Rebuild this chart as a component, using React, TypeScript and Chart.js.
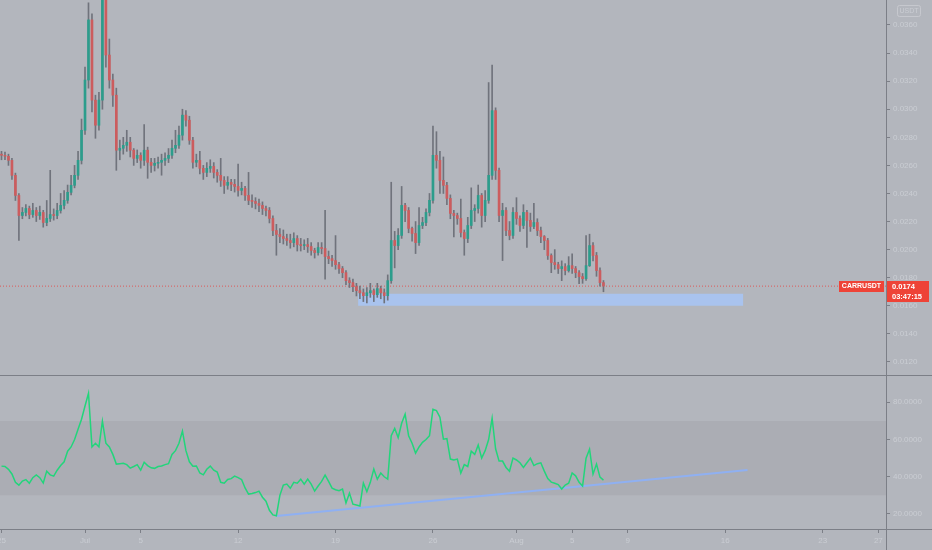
import React, { useEffect, useRef } from "react";
import { Chart, registerables } from "chart.js";

Chart.register(...registerables);

// ---------- data ----------
const symbol = "CARRUSDT";
const quoteCurrency = "USDT";
const lastPrice = 0.0174;
const countdown = "03:47:15";
const candleStepDays = 0.25; // 6h candles, day 0 = 25 Jun
const firstOpen = 0.0268;

const closes = [
  0.02672, 0.02665, 0.02636, 0.02529, 0.02386, 0.02243, 0.02265, 0.02293, 0.0225, 0.02279,
  0.02243, 0.02265, 0.02193, 0.02222, 0.0225, 0.02243, 0.02279, 0.02315, 0.02351, 0.02408,
  0.02458, 0.02529, 0.02636, 0.0285, 0.03208, 0.03636, 0.03065, 0.02886, 0.03065, 0.03815,
  0.03386, 0.03208, 0.031, 0.02708, 0.02722, 0.02743, 0.02765, 0.02708, 0.0265, 0.02672,
  0.02636, 0.02708, 0.02622, 0.026, 0.02615, 0.02622, 0.02636, 0.0265, 0.02672, 0.02722,
  0.02743, 0.02815, 0.02958, 0.02922, 0.02779, 0.02622, 0.02636, 0.02579, 0.0255, 0.02579,
  0.02593, 0.0255, 0.02529, 0.02493, 0.02458, 0.02479, 0.02465, 0.0245, 0.02422, 0.02436,
  0.02386, 0.02351, 0.02343, 0.02329, 0.02315, 0.02293, 0.02279, 0.02222, 0.02136, 0.02108,
  0.02093, 0.02079, 0.02065, 0.0205, 0.02079, 0.02036, 0.02029, 0.02036, 0.02022, 0.01994,
  0.01979, 0.02015, 0.02008, 0.01951, 0.01936, 0.01922, 0.01893, 0.01865, 0.01836, 0.01779,
  0.01765, 0.01736, 0.01708, 0.01693, 0.01672, 0.01693, 0.01708, 0.01679, 0.01722, 0.01693,
  0.01672, 0.01779, 0.02065, 0.02029, 0.02101, 0.02315, 0.02279, 0.02151, 0.02115, 0.0205,
  0.02172, 0.02193, 0.02265, 0.02351, 0.02672, 0.02636, 0.02493, 0.02458, 0.02365, 0.02258,
  0.02243, 0.02222, 0.02122, 0.02079, 0.02172, 0.02279, 0.02293, 0.02386, 0.02243, 0.02351,
  0.02529, 0.0299, 0.02565, 0.02243, 0.02279, 0.02136, 0.02101, 0.02265, 0.02222, 0.02172,
  0.02265, 0.02208, 0.02165, 0.02193, 0.02136, 0.02093, 0.02065, 0.01958, 0.01908, 0.01893,
  0.01865, 0.01879, 0.01851, 0.01886, 0.01865, 0.01836, 0.01808, 0.01793, 0.01886, 0.02029,
  0.01958, 0.01851, 0.01765, 0.0174,
];

const highs = [
  0.027, 0.02695, 0.0268, 0.0265, 0.02545, 0.024, 0.023, 0.0232, 0.0231, 0.0233,
  0.023, 0.0231, 0.0228, 0.0235, 0.02565, 0.0229, 0.0233, 0.024, 0.0242, 0.0246,
  0.0253, 0.026, 0.027, 0.0293, 0.033, 0.03758, 0.0368, 0.031, 0.0312, 0.039,
  0.0385, 0.035, 0.0325, 0.0315, 0.0278, 0.028, 0.0285, 0.028, 0.0272, 0.0271,
  0.0269, 0.0289, 0.0273, 0.0265, 0.0265, 0.0266, 0.0268, 0.0269, 0.0272, 0.0278,
  0.0285, 0.0288, 0.03, 0.0299, 0.0295, 0.028, 0.0268, 0.027, 0.026, 0.0262,
  0.0264, 0.0262, 0.0257, 0.0265, 0.0252, 0.0252, 0.025, 0.025, 0.0261, 0.0248,
  0.0245, 0.0255, 0.0239, 0.0237, 0.0236, 0.0234, 0.0231, 0.023, 0.0224, 0.0218,
  0.0215, 0.0214, 0.0211, 0.0211, 0.0212, 0.021, 0.0208, 0.0207, 0.0208, 0.0205,
  0.0201, 0.0205, 0.0205, 0.0228, 0.0199, 0.0196, 0.021, 0.0191, 0.0188, 0.0185,
  0.018, 0.0179, 0.0176, 0.0174, 0.0172, 0.0173, 0.0176, 0.0172, 0.0176, 0.0174,
  0.0172, 0.0182, 0.0248, 0.0213, 0.0215, 0.0245, 0.0233, 0.023, 0.0216, 0.022,
  0.023, 0.0223, 0.0229, 0.024, 0.0288, 0.0284, 0.027, 0.0266, 0.0248, 0.0239,
  0.0228, 0.0226, 0.0236, 0.0214, 0.0223, 0.0244, 0.0232, 0.0246, 0.024, 0.0242,
  0.0319, 0.03315, 0.0301, 0.0258, 0.0233, 0.023, 0.022, 0.023, 0.0237, 0.0224,
  0.0232, 0.0228, 0.0226, 0.0233, 0.0222, 0.0216, 0.021, 0.0208, 0.0197, 0.02,
  0.0191, 0.0192, 0.019, 0.0195, 0.0197, 0.0188, 0.0185, 0.0183, 0.021, 0.0211,
  0.0205, 0.0198, 0.0187, 0.0178,
];

const lows = [
  0.0264, 0.0264, 0.026, 0.025, 0.0235, 0.02065, 0.0222, 0.0224, 0.0222, 0.0223,
  0.022, 0.02215, 0.0216, 0.0217, 0.022, 0.0221, 0.0222, 0.0226, 0.0229, 0.0233,
  0.0239, 0.0244, 0.025, 0.0261, 0.0282, 0.0315, 0.0298, 0.02793, 0.0285, 0.03,
  0.033, 0.0315, 0.0302, 0.02565, 0.0264, 0.0268, 0.027, 0.0266, 0.026, 0.0262,
  0.0258, 0.026, 0.02508, 0.0255, 0.0256, 0.0258, 0.0253, 0.026, 0.0262, 0.0265,
  0.0269, 0.0272, 0.0278, 0.0288, 0.0275, 0.0258, 0.0259, 0.0254, 0.025, 0.0252,
  0.0255, 0.0251, 0.0248, 0.0245, 0.024, 0.0243, 0.0242, 0.0241, 0.0238, 0.0239,
  0.0235, 0.0232, 0.023, 0.0229, 0.0227, 0.0225, 0.0224, 0.0219, 0.021, 0.0196,
  0.0205, 0.0204, 0.0203, 0.0201, 0.0202, 0.0199, 0.0199, 0.02, 0.0198, 0.0196,
  0.0194, 0.0196, 0.0197, 0.0179, 0.019, 0.0188, 0.0186, 0.0183, 0.018, 0.0175,
  0.0173, 0.017, 0.0167, 0.0165, 0.0163, 0.0162, 0.0166, 0.0163, 0.0166, 0.0165,
  0.0162, 0.0164, 0.0176, 0.0187, 0.02, 0.0208, 0.022, 0.0212, 0.0206, 0.01972,
  0.0203, 0.0215, 0.0217, 0.0224, 0.0233, 0.0258, 0.024, 0.024, 0.0232, 0.0222,
  0.0209, 0.0218, 0.0209, 0.0196, 0.0205, 0.0215, 0.022, 0.0226, 0.0216, 0.022,
  0.0233, 0.025, 0.025, 0.022, 0.01922, 0.021, 0.0207, 0.0208, 0.0218, 0.0213,
  0.0215, 0.02015, 0.0213, 0.0215, 0.021, 0.0205, 0.02, 0.0193, 0.01836, 0.0186,
  0.0183, 0.01779, 0.0182, 0.0184, 0.0183, 0.018, 0.01758, 0.0176, 0.0178, 0.0188,
  0.0192, 0.0181, 0.0174, 0.017,
];

const rsiValues = [
  45.7, 45.5, 44, 41.5, 37, 35.5, 37.7, 38.5, 36.5, 39.5,
  41, 39.5, 36.6, 43, 41, 40.3, 43.5, 46, 48, 53.7,
  56, 60, 65.5, 70.9, 78, 84.8, 56, 58, 56, 69.8,
  58, 56, 52, 46.8, 47, 47.2, 46.5, 44.6, 45.5, 46.5,
  43.5, 47.8, 46, 44.8, 44.5, 45.5, 45.8, 46.5, 47, 52,
  54, 58, 64.5, 54, 48, 45.7, 45.8, 42, 41, 44,
  45.7, 43.5, 42.5, 37, 36.5, 38.5, 39, 40.3, 39.5, 38.5,
  34, 30.7, 31, 31.5, 32.3, 29, 26.9, 22, 19.5, 19,
  30, 35.5, 36.1, 33.8, 37, 36.5, 38.7, 36, 38.7, 36,
  32.3, 35, 37.5, 40.9, 37.5, 33.9, 33, 32.5, 33.4, 25.9,
  31.2, 25.3, 24.8, 24.3, 36.6, 32, 37, 44.1, 38.7, 42,
  40, 38.7, 62, 66, 61, 68.7, 73.6, 62, 58, 52.7,
  56, 58.5, 60, 62, 76.2, 75.5, 72, 60.2, 60.5, 49.5,
  49, 49.5, 42, 46.5, 45.5, 53.7, 52, 57, 50, 54,
  60, 71.4, 55, 48.4, 48.4, 45, 43, 50, 49, 47.5,
  45, 47.5, 50, 46, 47, 47.5, 43, 39, 37.1, 36.5,
  35.8, 33.4, 35.5, 36.5, 42, 40.5, 37, 35, 50, 54.8,
  41.4, 46.8, 39.8, 38.2,
];

const priceTicks = [0.012, 0.014, 0.016, 0.018, 0.02, 0.022, 0.024, 0.026, 0.028, 0.03, 0.032, 0.034, 0.036];
const rsiTicks = [20, 40, 60, 80];
const dateTickDays = [0, 6, 10, 17, 24, 31, 37, 41, 45, 52, 59, 63];
const dateTickLabels = ["25", "Jul", "5", "12", "19", "26", "Aug", "5", "9", "16", "23", "27"];

const xMinDay = -0.108;
const xMaxDay = 63.55;
const priceMin = 0.01107;
const priceMax = 0.03778;
const rsiMin = 11.4;
const rsiMax = 94.1;

const supportZoneTop = 0.01686;
const supportZoneBottom = 0.016;
const supportZoneStartDay = 25.62;
const supportZoneEndDay = 53.3;

const rsiBandUpper = 70;
const rsiBandLower = 30;
const rsiTrendStart = { day: 19.75, value: 18.9 };
const rsiTrendEnd = { day: 53.6, value: 43.6 };

// ---------- styles ----------
const BG = "#b3b6bd";
const BAND = "#abadb4";
const TEXT = "#cacdd3";
const LINE = "#7c7f87";
const UP = "#2c9d8c";
const DOWN = "#cc5c5e";
const WICK = "#70737c";
const RED = "#ee4337";
const FONT = "'Liberation Sans', Arial, sans-serif";

const AXIS_W = 46;

function rightAxis(min: number, max: number, ticks: number[], digits: number) {
  return {
    type: "linear" as const,
    position: "right" as const,
    min,
    max,
    afterBuildTicks: (s: any) => {
      s.ticks = ticks.map((v) => ({ value: v }));
    },
    afterFit: (s: any) => {
      s.width = AXIS_W;
      s.paddingTop = 0;
      s.paddingBottom = 0;
    },
    border: { display: false },
    grid: { drawOnChartArea: false, drawTicks: true, tickLength: 4, color: LINE },
    ticks: {
      color: TEXT,
      padding: 3,
      font: { family: FONT, size: 8 },
      callback: (v: any) => Number(v).toFixed(digits),
    },
  };
}

function xAxis(display: boolean) {
  return {
    type: "linear" as const,
    min: xMinDay,
    max: xMaxDay,
    offset: false,
    display,
    afterBuildTicks: (s: any) => {
      s.ticks = dateTickDays.map((v) => ({ value: v }));
    },
    afterFit: (s: any) => {
      s.height = display ? 20 : 0;
      s.paddingLeft = 0;
      s.paddingRight = 0;
    },
    border: { display: false },
    grid: { drawOnChartArea: false, drawTicks: true, tickLength: 3, color: LINE },
    ticks: {
      color: TEXT,
      padding: 3,
      autoSkip: false,
      maxRotation: 0,
      font: { family: FONT, size: 8 },
      callback: (_v: any, i: number) => dateTickLabels[i] ?? "",
    },
  };
}

const priceOverlay = {
  id: "priceOverlay",
  afterDraw(chart: any) {
    const { ctx } = chart;
    const y = Math.round(chart.scales.y.getPixelForValue(lastPrice));
    ctx.save();
    // symbol label
    ctx.fillStyle = RED;
    ctx.fillRect(839, y - 5, 45, 11);
    ctx.fillStyle = "#ffffff";
    ctx.font = `bold 7px ${FONT}`;
    ctx.textAlign = "center";
    ctx.textBaseline = "middle";
    ctx.fillText(symbol, 861.5, y + 0.5);
    // price label on axis
    ctx.fillStyle = RED;
    ctx.fillRect(886, y - 5, 43, 21);
    ctx.fillStyle = "#ffffff";
    ctx.textAlign = "left";
    ctx.font = `bold 7.5px ${FONT}`;
    ctx.fillText(lastPrice.toFixed(4), 892, y + 0.5);
    ctx.fillText(countdown, 892, y + 10.5);
    // currency box
    ctx.strokeStyle = "#c6c8ce";
    ctx.lineWidth = 1;
    ctx.beginPath();
    (ctx as any).roundRect(897.5, 5.5, 23, 11, 2);
    ctx.stroke();
    ctx.fillStyle = TEXT;
    ctx.font = `7px ${FONT}`;
    ctx.textAlign = "center";
    ctx.fillText(quoteCurrency, 909, 11.5);
    ctx.restore();
  },
};

export default function App() {
  const priceRef = useRef<HTMLCanvasElement>(null);
  const rsiRef = useRef<HTMLCanvasElement>(null);

  useEffect(() => {
    const opens = closes.map((_, i) => (i === 0 ? firstOpen : closes[i - 1]));
    const days = closes.map((_, i) => i * candleStepDays);
    const bodyColors = closes.map((c, i) => (c >= opens[i] ? UP : DOWN));

    const priceChart = new Chart(priceRef.current!, {
      type: "bar",
      data: {
        datasets: [
          {
            type: "line",
            data: [
              { x: supportZoneStartDay, y: supportZoneTop },
              { x: supportZoneEndDay, y: supportZoneTop },
            ],
            borderWidth: 0,
            pointRadius: 0,
            backgroundColor: "#a9c3ee",
            fill: { value: supportZoneBottom },
            order: 20,
          } as any,
          {
            type: "line",
            data: [
              { x: xMinDay, y: lastPrice },
              { x: xMaxDay, y: lastPrice },
            ],
            borderColor: "#dd5a5a",
            borderWidth: 1,
            borderDash: [1, 2],
            pointRadius: 0,
            fill: false,
            order: 15,
          } as any,
          {
            type: "bar",
            data: days.map((d, i) => ({ x: d, y: [lows[i], highs[i]] })),
            backgroundColor: WICK,
            barThickness: 1,
            grouped: false,
            borderWidth: 0,
            order: 5,
          } as any,
          {
            type: "bar",
            data: days.map((d, i) => ({ x: d, y: [opens[i], closes[i]] })),
            backgroundColor: bodyColors,
            barThickness: 2,
            grouped: false,
            borderWidth: 0,
            order: 4,
          } as any,
        ],
      },
      options: {
        responsive: false,
        animation: false,
        events: [],
        layout: { padding: 0 },
        plugins: { legend: { display: false }, tooltip: { enabled: false } },
        scales: {
          x: xAxis(false) as any,
          y: rightAxis(priceMin, priceMax, priceTicks, 4) as any,
        },
      },
      plugins: [priceOverlay],
    });

    const rsiChart = new Chart(rsiRef.current!, {
      type: "line",
      data: {
        datasets: [
          {
            data: [
              { x: xMinDay, y: rsiBandUpper },
              { x: xMaxDay, y: rsiBandUpper },
            ],
            borderWidth: 0,
            pointRadius: 0,
            backgroundColor: BAND,
            fill: { value: rsiBandLower },
            order: 20,
          } as any,
          {
            data: [
              { x: rsiTrendStart.day, y: rsiTrendStart.value },
              { x: rsiTrendEnd.day, y: rsiTrendEnd.value },
            ],
            borderColor: "#8fb0f2",
            borderWidth: 2,
            pointRadius: 0,
            fill: false,
            order: 3,
          },
          {
            data: days.map((d, i) => ({ x: d, y: rsiValues[i] })),
            borderColor: "#22d57b",
            borderWidth: 1.5,
            pointRadius: 0,
            tension: 0,
            fill: false,
            order: 1,
          },
        ],
      },
      options: {
        responsive: false,
        animation: false,
        events: [],
        layout: { padding: 0 },
        plugins: { legend: { display: false }, tooltip: { enabled: false } },
        scales: {
          x: xAxis(true) as any,
          y: rightAxis(rsiMin, rsiMax, rsiTicks, 4) as any,
        },
      },
    });

    return () => {
      priceChart.destroy();
      rsiChart.destroy();
    };
  }, []);

  return (
    <div
      style={{
        position: "fixed",
        left: 0,
        top: 0,
        width: 932,
        height: 550,
        background: BG,
        overflow: "hidden",
      }}
    >
      <canvas ref={priceRef} width={932} height={375} style={{ position: "absolute", left: 0, top: 0 }} />
      <canvas ref={rsiRef} width={932} height={174} style={{ position: "absolute", left: 0, top: 376 }} />
      <div style={{ position: "absolute", left: 0, top: 375, width: 932, height: 1, background: LINE }} />
      <div style={{ position: "absolute", left: 0, top: 529, width: 932, height: 1, background: LINE }} />
      <div style={{ position: "absolute", left: 886, top: 0, width: 1, height: 550, background: LINE }} />
    </div>
  );
}
